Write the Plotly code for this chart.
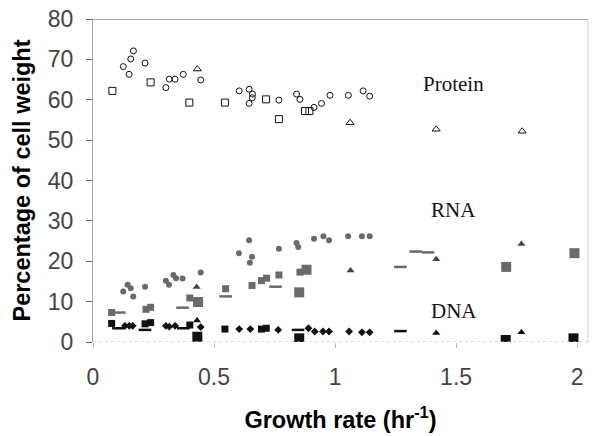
import plotly.graph_objects as go

# ---------------- data (growth rate hr^-1, % of cell weight) ----------------
protein_circle_x = [0.167, 0.156, 0.125, 0.149, 0.215, 0.301, 0.315, 0.339, 0.373, 0.445,
                    0.604, 0.645, 0.659, 0.658, 0.645, 0.768, 0.841, 0.855, 0.913, 0.944,
                    0.979, 1.055, 1.116, 1.143]
protein_circle_y = [72.1, 70.1, 68.2, 66.3, 69.1, 63.0, 65.1, 65.1, 66.3, 64.9,
                    62.2, 62.6, 61.4, 60.5, 59.1, 59.9, 61.4, 60.1, 58.1, 59.1,
                    61.1, 61.1, 62.2, 60.9]
protein_square_x = [0.080, 0.238, 0.398, 0.545, 0.715, 0.768, 0.876, 0.894]
protein_square_y = [62.2, 64.3, 59.3, 59.3, 60.1, 55.2, 57.2, 57.2]
protein_tri_x = [0.431, 1.062, 1.418, 1.773]
protein_tri_y = [67.6, 54.3, 52.7, 52.2]

rna_circle_x = [0.645, 0.603, 0.657, 0.648, 0.768, 0.841, 0.848, 0.913, 0.952, 0.975,
                1.054, 1.111, 1.143, 0.445, 0.332, 0.343, 0.301, 0.314, 0.370, 0.215,
                0.143, 0.156, 0.166, 0.125]
rna_circle_y = [25.2, 22.0, 21.1, 19.6, 23.1, 24.5, 23.5, 25.6, 26.2, 25.2,
                26.2, 26.2, 26.2, 17.2, 16.6, 15.8, 15.2, 14.2, 15.7, 13.7,
                14.2, 13.3, 11.3, 12.5]
rna_square_x = [0.400, 0.219, 0.238, 0.077, 0.548, 0.657, 0.696, 0.717, 0.768, 0.855]
rna_square_y = [10.9, 8.1, 8.6, 7.3, 13.2, 14.0, 15.2, 15.8, 16.6, 17.3]
rna_bigsq_x = [0.434, 0.852, 0.882, 1.707, 1.989]
rna_bigsq_y = [9.9, 12.3, 17.9, 18.6, 22.0]
rna_dash_x = [0.109, 0.370, 0.548, 0.754, 1.270, 1.333, 1.384]
rna_dash_y = [7.3, 8.5, 11.3, 13.7, 18.6, 22.4, 22.2]
rna_tri_x = [0.428, 1.064, 1.418, 1.770]
rna_tri_y = [13.6, 17.7, 20.5, 24.3]

dna_diamond_x = [0.132, 0.150, 0.164, 0.301, 0.315, 0.339, 0.445, 0.604, 0.650, 0.765,
                 0.890, 0.916, 0.950, 0.975, 1.058, 1.111, 1.143]
dna_diamond_y = [4.0, 4.0, 4.0, 4.0, 3.8, 4.0, 3.7, 3.2, 3.2, 3.0,
                 3.4, 2.6, 2.6, 2.6, 2.6, 2.4, 2.4]
dna_square_x = [0.077, 0.215, 0.238, 0.400, 0.545, 0.696, 0.716]
dna_square_y = [4.6, 4.5, 4.8, 4.2, 3.2, 3.2, 3.4]
dna_bigsq_x = [0.431, 0.852, 1.705, 1.985]
dna_bigsq_y = [1.3, 0.9, 0.5, 0.9]
dna_dash_x = [0.105, 0.215, 0.373, 0.847, 1.270]
dna_dash_y = [3.4, 3.0, 3.4, 3.0, 2.7]
dna_tri_x = [0.430, 1.418, 1.770]
dna_tri_y = [5.3, 2.2, 2.4]

x_ticks = [0, 0.5, 1, 1.5, 2]
x_tick_text = ["0", "0.5", "1", "1.5", "2"]
y_ticks = [0, 10, 20, 30, 40, 50, 60, 70, 80]

labels = ["Protein", "RNA", "DNA"]
label_x = [1.49, 1.49, 1.49]
label_y = [63.8, 32.6, 7.6]

# ---------------- figure ----------------
fig = go.Figure()

def add(x, y, symbol, size, color, line_color=None, line_width=0):
    fig.add_trace(go.Scatter(
        x=x, y=y, mode="markers", showlegend=False, hoverinfo="skip",
        marker=dict(symbol=symbol, size=size, color=color,
                    line=dict(color=line_color or color, width=line_width))))

BLK = "#111111"
GRY = "#6a6a6a"
DGR = "#444444"

# protein (open)
add(protein_circle_x, protein_circle_y, "circle-open", 6, BLK, BLK, 1)
add(protein_square_x, protein_square_y, "square-open", 7, BLK, BLK, 1)
add(protein_tri_x, protein_tri_y, "triangle-up-open", 7, BLK, BLK, 1)
# RNA (gray)
add(rna_circle_x, rna_circle_y, "circle", 6, GRY)
add(rna_square_x, rna_square_y, "square", 7, GRY)
add(rna_bigsq_x, rna_bigsq_y, "square", 10, GRY)
add(rna_dash_x, rna_dash_y, "line-ew", 9, GRY, GRY, 2.5)
add(rna_tri_x, rna_tri_y, "triangle-up", 7, DGR)
# DNA (black)
add(dna_diamond_x, dna_diamond_y, "diamond", 6, BLK)
add(dna_square_x, dna_square_y, "square", 7, BLK)
add(dna_bigsq_x, dna_bigsq_y, "square", 10, BLK)
add(dna_dash_x, dna_dash_y, "line-ew", 9, BLK, BLK, 2.5)
add(dna_tri_x, dna_tri_y, "triangle-up", 7, BLK)

for t, xx, yy in zip(labels, label_x, label_y):
    fig.add_annotation(x=xx, y=yy, text=t, showarrow=False,
                       font=dict(family="Liberation Serif, Times New Roman, serif",
                                 size=21, color="#111111"))

# frame
fig.add_shape(type="line", xref="paper", yref="y", x0=-0.014, x1=1, y0=80, y1=80,
              line=dict(color="#555555", width=1))
fig.add_shape(type="line", xref="paper", yref="paper", x0=1, x1=1, y0=0, y1=1,
              line=dict(color="#d0d0d0", width=1))
fig.add_shape(type="line", xref="paper", yref="y", x0=0, x1=1, y0=0, y1=0,
              line=dict(color="#bbbbbb", width=1, dash="dot"))

tickfont = dict(family="Liberation Sans, Arial, sans-serif", size=23, color="#444444")
xtitlefont = dict(family="Liberation Sans, Arial, sans-serif", size=23.5, color="#000000")
ytitlefont = dict(family="Liberation Sans, Arial, sans-serif", size=23.5, color="#000000")

fig.update_layout(
    width=594, height=436,
    margin=dict(l=93, r=6, t=19, b=94, autoexpand=False),
    paper_bgcolor="white", plot_bgcolor="white",
    xaxis=dict(range=[0, 2.045], tickvals=x_ticks, ticktext=x_tick_text,
               showgrid=False, zeroline=False, showline=False,
               ticks="outside", ticklen=5, tickcolor="#bbbbbb",
               tickfont=tickfont, ticklabelstandoff=9,
               title=dict(text="<b>Growth rate (hr<sup>-1</sup>)</b>", font=xtitlefont, standoff=22)),
    yaxis=dict(range=[0, 80], tickvals=y_ticks, showgrid=False, zeroline=False,
               showline=True, linecolor="#aaaaaa", linewidth=1,
               ticks="outside", ticklen=6, tickcolor="#666666",
               tickfont=tickfont, ticklabelstandoff=8,
               title=dict(text="<b>Percentage of cell weight</b>", font=ytitlefont, standoff=10)),
)

fig.write_html("out.html")
